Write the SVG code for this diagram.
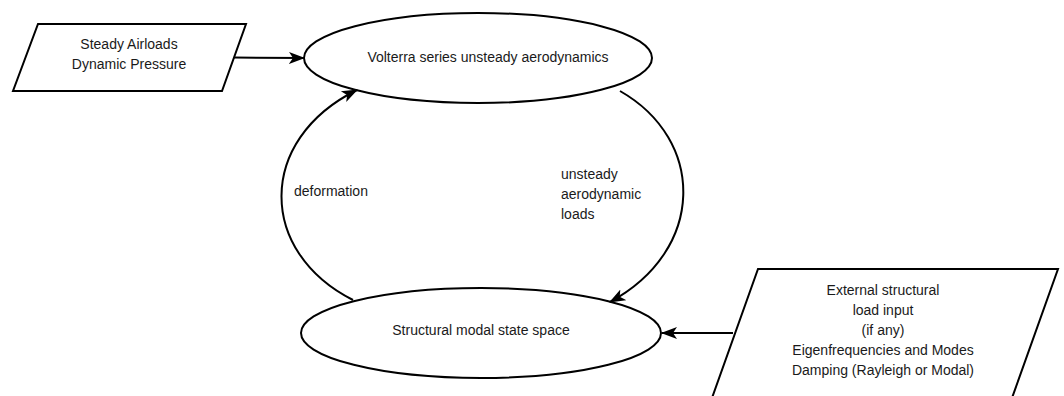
<svg xmlns="http://www.w3.org/2000/svg" width="1064" height="396" viewBox="0 0 1064 396">
<style>
.shape{fill:#fff;stroke:#000;stroke-width:2}
.conn{fill:none;stroke:#000;stroke-width:2}
text{font-family:"Liberation Sans",Arial,sans-serif;font-size:14px;fill:#1a1a1a}
.c{text-anchor:middle}
</style>
<defs>
<marker id="arr" markerWidth="16" markerHeight="14" viewBox="0 0 16 14" refX="15" refY="7" orient="auto" markerUnits="userSpaceOnUse">
<path d="M0,1 L16,7 L0,13 L4,7 z" fill="#000"/>
</marker>
</defs>
<g id="steady">
<polygon class="shape" points="38,24 246,24 222,91 13,91"/>
<text class="c" x="129" y="49">Steady Airloads</text>
<text class="c" x="129" y="69">Dynamic Pressure</text>
</g>
<g id="volterra">
<ellipse class="shape" cx="478" cy="58" rx="174" ry="45"/>
<text class="c" x="488" y="62">Volterra series unsteady aerodynamics</text>
</g>
<g id="structural">
<ellipse class="shape" cx="481" cy="333" rx="180" ry="45"/>
<text class="c" x="481" y="335">Structural modal state space</text>
</g>
<g id="external">
<polygon class="shape" points="758,269 1058,269 1007,412 707,412"/>
<text class="c" x="883" y="295">External structural</text>
<text class="c" x="883" y="315">load input</text>
<text class="c" x="883" y="335">(if any)</text>
<text class="c" x="883" y="355">Eigenfrequencies and Modes</text>
<text class="c" x="883" y="375">Damping (Rayleigh or Modal)</text>
</g>
<g id="connectors">
<path class="conn" d="M234,57.5 L304,58" marker-end="url(#arr)"/>
<path class="conn" d="M733,333 L662,333" marker-end="url(#arr)"/>
<path class="conn" d="M353,300 C258,252 256,140 357,90" marker-end="url(#arr)"/>
<path class="conn" d="M620,91 C706,140 706,250 610,302" marker-end="url(#arr)"/>
<text x="294" y="196">deformation</text>
<text x="561" y="179">unsteady</text>
<text x="561" y="199">aerodynamic</text>
<text x="561" y="219">loads</text>
</g>
</svg>
